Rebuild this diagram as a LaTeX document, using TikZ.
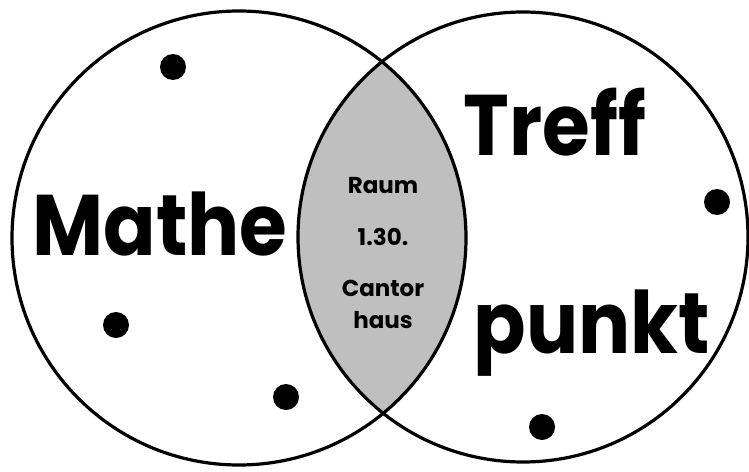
\documentclass[tikz,border=0pt]{standalone}
\usepackage{fontspec}
\setmainfont{Poppins}
\newcommand{\narrow}[1]{\scalebox{0.9}[1]{#1}}
\begin{document}
\begin{tikzpicture}[x=1pt,y=-1pt,line width=3.2pt,
    bigword/.style={font=\bfseries\fontsize{86}{86}\selectfont,anchor=base,inner sep=0pt},
    smallword/.style={font=\bfseries\fontsize{23}{23}\selectfont,anchor=base,inner sep=0pt}]
  \useasboundingbox (0,0) rectangle (749,471);
  \def\leftset{(239,238) circle(227pt)}
  \def\rightset{(523,237) circle(225pt)}
  % shaded intersection
  \begin{scope}
    \clip \leftset;
    \fill[black!25] \rightset;
  \end{scope}
  \draw \leftset;
  \draw \rightset;
  \foreach \x/\y in {173/67,116/325,286/397,717/202,542/427}
    \fill (\x,\y) circle(13pt);
  \node[bigword] (mathe) at (160,255) {\narrow{Mathe}};
  \node[bigword] (treff) at (555,155) {\narrow{Treff}};
  \node[bigword] (punkt) at (592,353) {\narrow{punkt}};
  \node[smallword] (raum) at (383,193) {Raum};
  \node[smallword] (nummer) at (383,245) {1.30.};
  \node[smallword] (cantor) at (383,296) {Cantor};
  \node[smallword] (haus) at (383,328) {haus};
\end{tikzpicture}
\end{document}
